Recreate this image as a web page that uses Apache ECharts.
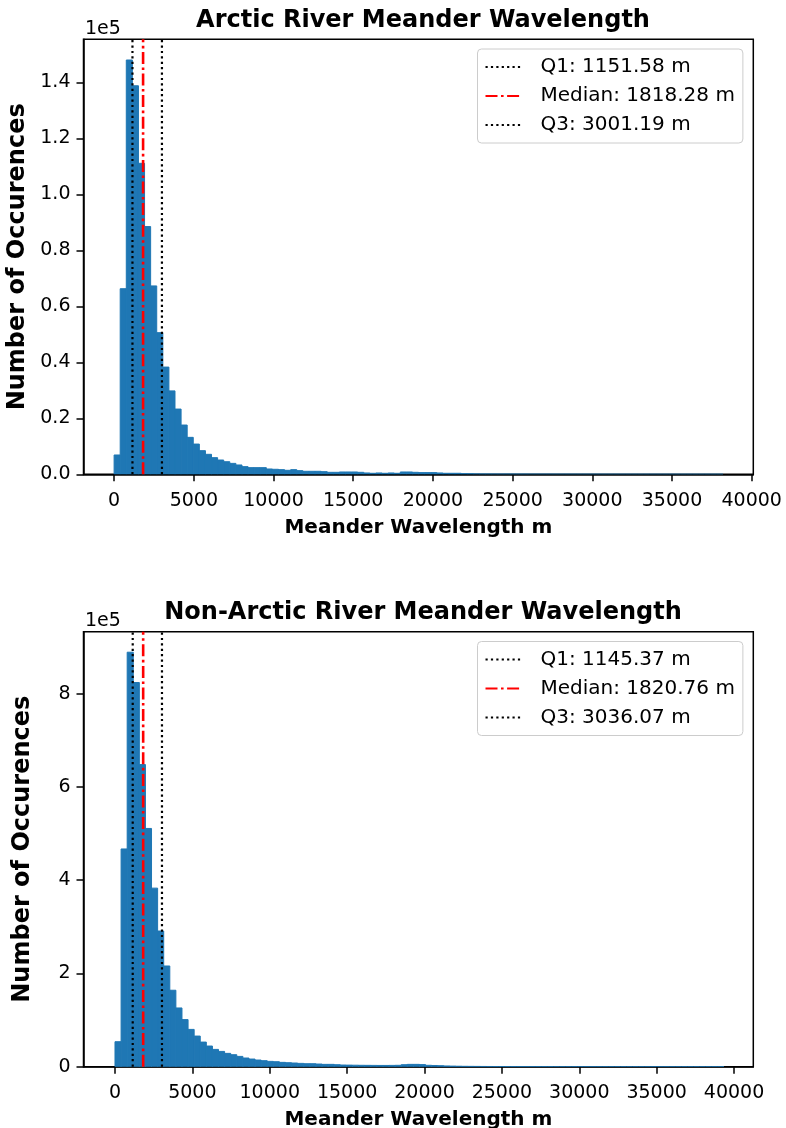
<!DOCTYPE html>
<html>
<head>
<meta charset="utf-8">
<script src="https://cdn.jsdelivr.net/npm/echarts@6/dist/echarts.min.js"></script>
<style>
  html, body { margin: 0; padding: 0; background: #ffffff; }
  #chart { width: 786px; height: 1128px; }
</style>
</head>
<body>
<div id="chart"></div>
<script>
// Histogram bin layout (metres)
const arcticBinWidth = 382;
const nonArcticBinWidth = 393.5;

// Counts per bin, Arctic rivers
const arcticCounts = [
  6900, 66300, 148000, 138800, 111100, 88500, 67300, 50600, 38300, 29800,
  23300, 17600, 13200, 10800, 8450, 7140, 5950, 5100, 4500, 3900,
  3330, 2740, 2380, 2380, 2380, 1900, 1790, 1670, 1430, 1670,
  1310, 1070, 1070, 1070, 950, 710, 710, 830, 830, 830,
  710, 480, 360, 480, 360, 480, 360, 830, 830, 710,
  600, 600, 600, 480, 360, 360, 360, 240, 200, 150,
  120, 110, 100, 90, 95, 80, 70, 75, 60, 60,
  50, 55, 45, 40, 45, 35, 30, 30, 25, 30,
  20, 20, 25, 15, 15, 20, 10, 15, 10, 10,
  12, 8, 10, 6, 8, 5, 6, 4, 3, 2
];

// Counts per bin, non-Arctic rivers
const nonArcticCounts = [
  53600, 467000, 889000, 824000, 648000, 511000, 383000, 291000, 216000, 164000,
  126000, 101000, 80000, 65700, 52800, 44300, 37100, 32800, 28600, 25700,
  22100, 18600, 16400, 14300, 12900, 11400, 10700, 9300, 8600, 7900,
  7100, 6400, 6400, 5700, 5000, 5000, 4300, 3600, 3400, 3200,
  3000, 2900, 2800, 2700, 2700, 2800, 3000, 4300, 5000, 5000,
  4500, 3000, 2600, 2200, 1600, 1300, 1000, 800, 700, 600,
  520, 460, 420, 380, 330, 300, 280, 250, 230, 200,
  190, 170, 160, 140, 130, 120, 110, 100, 95, 85,
  80, 70, 65, 60, 55, 50, 45, 40, 38, 34,
  30, 26, 22, 20, 16, 14, 10, 8, 6, 4
];

// Quartiles: Q1, median, Q3 (metres)
const arcticQuartiles = [1151.58, 1818.28, 3001.19];
const nonArcticQuartiles = [1145.37, 1820.76, 3036.07];

// Tick positions
const xTicks = [0, 5000, 10000, 15000, 20000, 25000, 30000, 35000, 40000];
const arcticYTicks = [0, 20000, 40000, 60000, 80000, 100000, 120000, 140000];
const nonArcticYTicks = [0, 200000, 400000, 600000, 800000];

const FONT = 'DejaVu Sans';
const BAR_COLOR = '#1f77b4';

const arcticYMax = 155400;
const nonArcticYMax = 933000;

function binData(counts, width) {
  return counts.map((c, i) => [i * width, (i + 1) * width, c]);
}

function renderBin(params, api) {
  const top = api.coord([api.value(0), api.value(2)]);
  const base = api.coord([api.value(1), 0]);
  return {
    type: 'rect',
    shape: { x: top[0], y: top[1], width: base[0] - top[0], height: base[1] - top[1] },
    style: { fill: BAR_COLOR, stroke: BAR_COLOR, lineWidth: 1 }
  };
}

function statNames(q) {
  return [
    'Q1: ' + q[0].toFixed(2) + ' m',
    'Median: ' + q[1].toFixed(2) + ' m',
    'Q3: ' + q[2].toFixed(2) + ' m'
  ];
}

function quartileSeries(q, idx, yMax) {
  const names = statNames(q);
  const dotted = { color: '#000000', width: 2.2, type: [2.2, 3.2], cap: 'butt' };
  const dashDot = { color: '#ff0000', width: 2.6, type: [12, 3.5, 2.6, 3.5], cap: 'butt' };
  const styles = [dotted, dashDot, dotted];
  return q.map((v, k) => ({
    type: 'line',
    name: names[k],
    xAxisIndex: idx,
    yAxisIndex: idx,
    data: [[v, 0], [v, yMax]],
    symbol: 'none',
    silent: true,
    z: 5,
    itemStyle: { color: styles[k].color },
    lineStyle: styles[k]
  }));
}

function xAxisCfg(idx, min, max) {
  return {
    gridIndex: idx,
    type: 'value',
    min: min,
    max: max,
    axisLine: { show: true, onZero: false, lineStyle: { color: '#000', width: 1.5 } },
    axisTick: { show: true, length: 7, inside: false, customValues: xTicks,
      lineStyle: { color: '#000', width: 1.5 } },
    axisLabel: { customValues: xTicks, formatter: v => String(v), fontFamily: FONT,
      fontSize: 19, color: '#000', margin: 17 },
    splitLine: { show: false },
    name: 'Meander Wavelength m',
    nameLocation: 'middle',
    nameGap: 43,
    nameTextStyle: { fontFamily: FONT, fontSize: 20, fontWeight: 'bold', color: '#000' }
  };
}

function yAxisCfg(idx, max, ticks, fmt) {
  return {
    gridIndex: idx,
    type: 'value',
    min: 0,
    max: max,
    axisLine: { show: true, onZero: false, lineStyle: { color: '#000', width: 1.5 } },
    axisTick: { show: true, length: 7, inside: false, customValues: ticks,
      lineStyle: { color: '#000', width: 1.5 } },
    axisLabel: { customValues: ticks, formatter: fmt, fontFamily: FONT, fontSize: 19,
      color: '#000', margin: 13 },
    splitLine: { show: false },
    name: 'Number of Occurences',
    nameLocation: 'middle',
    nameGap: 49,
    nameTextStyle: { fontFamily: FONT, fontSize: 24, fontWeight: 'bold', color: '#000' }
  };
}

function legendCfg(q, top) {
  return {
    orient: 'vertical',
    left: 477.5,
    top: top,
    data: statNames(q),
    selectedMode: false,
    backgroundColor: '#ffffff',
    borderColor: '#cccccc',
    borderWidth: 1,
    borderRadius: 4,
    padding: [8, 8, 8, 7],
    itemWidth: 37,
    itemHeight: 14,
    itemGap: 9,
    itemStyle: { opacity: 0 },
    textStyle: { fontFamily: FONT, fontSize: 20, color: '#000', padding: [0, 0, 0, 13] }
  };
}

function gridCfg(top) {
  return {
    left: 83.5, top: top, width: 669.8, height: 435,
    show: true, borderColor: '#000', borderWidth: 1.5,
    containLabel: false, outerBoundsMode: 'none'
  };
}

const chart = echarts.init(document.getElementById('chart'), null, { renderer: 'canvas' });

chart.setOption({
  animation: false,
  backgroundColor: '#ffffff',
  title: [
    { text: 'Arctic River Meander Wavelength', left: 418, top: 4, textAlign: 'center',
      textStyle: { fontFamily: FONT, fontSize: 24, fontWeight: 'bold', color: '#000' } },
    { text: 'Non-Arctic River Meander Wavelength', left: 418, top: 596, textAlign: 'center',
      textStyle: { fontFamily: FONT, fontSize: 24, fontWeight: 'bold', color: '#000' } }
  ],
  graphic: [
    { type: 'text', left: 85, top: 20, style: { text: '1e5', font: '19px "DejaVu Sans"', fill: '#000' } },
    { type: 'text', left: 85, top: 612, style: { text: '1e5', font: '19px "DejaVu Sans"', fill: '#000' } }
  ],
  legend: [legendCfg(arcticQuartiles, 49), legendCfg(nonArcticQuartiles, 641.5)],
  grid: [gridCfg(39.3), gridCfg(631.7)],
  xAxis: [xAxisCfg(0, -1920, 40100), xAxisCfg(1, -2035, 41246)],
  yAxis: [
    yAxisCfg(0, arcticYMax, arcticYTicks, v => (v / 1e5).toFixed(1)),
    yAxisCfg(1, nonArcticYMax, nonArcticYTicks, v => String(Math.round(v / 1e5)))
  ],
  series: [
    { type: 'custom', name: 'Arctic', xAxisIndex: 0, yAxisIndex: 0, renderItem: renderBin,
      data: binData(arcticCounts, arcticBinWidth), encode: { x: [0, 1], y: 2 }, clip: true, silent: true },
    { type: 'custom', name: 'Non-Arctic', xAxisIndex: 1, yAxisIndex: 1, renderItem: renderBin,
      data: binData(nonArcticCounts, nonArcticBinWidth), encode: { x: [0, 1], y: 2 }, clip: true, silent: true }
  ]
    .concat(quartileSeries(arcticQuartiles, 0, arcticYMax))
    .concat(quartileSeries(nonArcticQuartiles, 1, nonArcticYMax))
});
</script>
</body>
</html>
